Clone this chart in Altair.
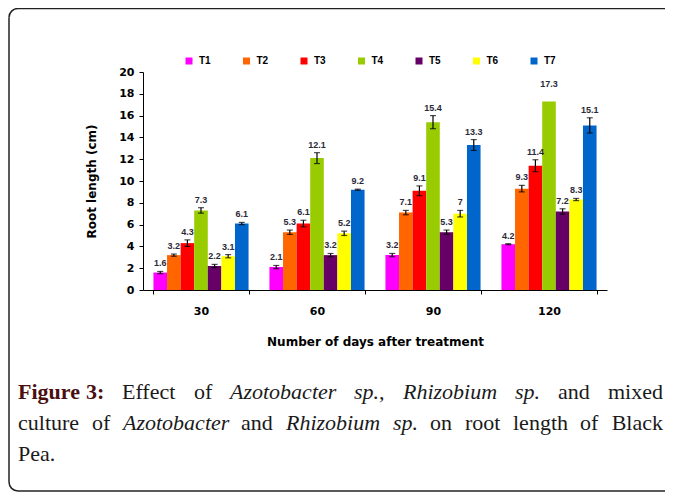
import math
import altair as alt
import pandas as pd

# ---------------- data ----------------
days = ["30", "60", "90", "120"]
treatments = ["T1", "T2", "T3", "T4", "T5", "T6", "T7"]
colors = ["#FF00FF", "#FF6600", "#FF0000", "#99CC00", "#660066", "#FFFF00", "#0066CC"]

root_30 = [1.6, 3.2, 4.3, 7.3, 2.2, 3.1, 6.1]
root_60 = [2.1, 5.3, 6.1, 12.1, 3.2, 5.2, 9.2]
root_90 = [3.2, 7.1, 9.1, 15.4, 5.3, 7.0, 13.3]
root_120 = [4.2, 9.3, 11.4, 17.3, 7.2, 8.3, 15.1]

err_30 = [0.1, 0.1, 0.3, 0.25, 0.15, 0.15, 0.1]
err_60 = [0.15, 0.2, 0.3, 0.5, 0.15, 0.2, 0.05]
err_90 = [0.15, 0.2, 0.45, 0.6, 0.2, 0.3, 0.5]
err_120 = [0.05, 0.3, 0.55, 0.85, 0.25, 0.1, 0.7]
# error bar of T4 at 120 days is not visible in the original
shown_120 = [True, True, True, False, True, True, True]

values = [root_30, root_60, root_90, root_120]
errors = [err_30, err_60, err_90, err_120]
shown = [[True] * 7, [True] * 7, [True] * 7, shown_120]

rows = []
for d, vals, errs, shw in zip(days, values, errors, shown):
    for t, v, e, s in zip(treatments, vals, errs, shw):
        rows.append({"day": d, "treat": t, "value": v, "lo": v - e, "hi": v + e,
                     "label": f"{v:g}", "shown": s})
df = pd.DataFrame(rows)

# ---------------- layout ----------------
W, H = 464, 218
PAD = {"left": 135, "top": 64, "right": 657 - 135 - W, "bottom": 484 - 64 - H}
OX, OY = 143, 72  # page position of plot origin

SANS = "Liberation Sans"
WIDE = "DejaVu Sans"
SERIF = "Liberation Serif"

x_enc = alt.X("day:N", sort=days,
              scale=alt.Scale(paddingInner=0.18, paddingOuter=0.09),
              axis=alt.Axis(title="Number of days after treatment", labelAngle=0,
                            tickBand="extent", tickSize=4, labelFont=WIDE,
                            labelFontSize=11, labelFontWeight="bold",
                            titleFont=WIDE, titleFontSize=12,
                            titleFontWeight="bold", labelPadding=11, titlePadding=20))
xo_enc = alt.XOffset("treat:N", sort=treatments,
                     scale=alt.Scale(paddingInner=0, paddingOuter=0))
y_axis = alt.Axis(title="Root length (cm)", values=list(range(0, 21, 2)), tickSize=4,
                  grid=False, labelFont=WIDE, labelFontSize=11, labelFontWeight="bold",
                  titleFont=WIDE, titleFontSize=12, titleFontWeight="bold",
                  labelPadding=5, titlePadding=20)
y_scale = alt.Scale(domain=[0, 20], nice=False)

base = alt.Chart(df)

bars = base.mark_bar().encode(
    x=x_enc, xOffset=xo_enc,
    y=alt.Y("value:Q", scale=y_scale, axis=y_axis),
    color=alt.Color("treat:N", sort=treatments,
                    scale=alt.Scale(domain=treatments, range=colors),
                    legend=alt.Legend(title=None, orient="none", legendX=41, legendY=-16,
                                      direction="horizontal", columns=7,
                                      symbolType="square", symbolSize=49,
                                      symbolStrokeWidth=0, labelFont=SANS,
                                      labelFontSize=10, labelFontWeight="bold",
                                      labelOffset=5, columnPadding=30.5,
                                      gridAlign="all", padding=0)),
)

err_base = base.transform_filter("datum.shown")
rules = err_base.mark_rule(color="black", strokeWidth=1.2).encode(
    x=x_enc, xOffset=xo_enc,
    y=alt.Y("lo:Q", scale=y_scale, axis=y_axis), y2="hi:Q")
cap_hi = err_base.mark_tick(color="black", size=6, thickness=1.2).encode(
    x=x_enc, xOffset=xo_enc, y=alt.Y("hi:Q", scale=y_scale, axis=y_axis))
cap_lo = err_base.mark_tick(color="black", size=6, thickness=1.2).encode(
    x=x_enc, xOffset=xo_enc, y=alt.Y("lo:Q", scale=y_scale, axis=y_axis))
labels = base.mark_text(font=SANS, fontSize=9, fontWeight="bold", color="#2a2a3a",
                        baseline="bottom", dy=-3).encode(
    x=x_enc, xOffset=xo_enc, y=alt.Y("hi:Q", scale=y_scale, axis=y_axis),
    text="label:N")

one = pd.DataFrame({"k": [0]})

# ---- rounded frame (left side rounded, right side runs off the page) ----
FL, FT, FB, R = 9, 8.5, 491, 9
FCOL, FW = "#222222", 1.5
frame_layers = [
    alt.Chart(one).mark_rule(color=FCOL, strokeWidth=FW).encode(
        x=alt.value(FL - OX), y=alt.value(FT + R - OY), y2=alt.value(FB - R - OY)),
    alt.Chart(one).mark_rule(color=FCOL, strokeWidth=FW).encode(
        x=alt.value(FL + R - OX), x2=alt.value(2000), y=alt.value(FT - OY)),
    alt.Chart(one).mark_rule(color=FCOL, strokeWidth=FW).encode(
        x=alt.value(FL + R - OX), x2=alt.value(2000), y=alt.value(FB - OY)),
    alt.Chart(one).mark_arc(color=FCOL, innerRadius=R - FW / 2, radius=R + FW / 2,
                            theta=1.5 * math.pi, theta2=2 * math.pi).encode(
        x=alt.value(FL + R - OX), y=alt.value(FT + R - OY)),
    alt.Chart(one).mark_arc(color=FCOL, innerRadius=R - FW / 2, radius=R + FW / 2,
                            theta=math.pi, theta2=1.5 * math.pi).encode(
        x=alt.value(FL + R - OX), y=alt.value(FB - R - OY)),
]

# caption words: (text, page_x, page_baseline, style, align)
caption = [
    ("Figure", 18, 399, "bold", "left"),
    ("3:", 86, 399, "bold", "left"),
    ("Effect", 122, 399, "normal", "left"),
    ("of", 194, 399, "normal", "left"),
    ("Azotobacter", 230, 399, "italic", "left"),
    ("sp.,", 354, 399, "italic", "left"),
    ("Rhizobium", 403, 399, "italic", "left"),
    ("sp.", 515, 399, "italic", "left"),
    ("and", 558, 399, "normal", "left"),
    ("mixed", 663, 399, "normal", "right"),
    ("culture", 18, 430, "normal", "left"),
    ("of", 92, 430, "normal", "left"),
    ("Azotobacter", 123, 430, "italic", "left"),
    ("and", 241, 430, "normal", "left"),
    ("Rhizobium", 286, 430, "italic", "left"),
    ("sp.", 393, 430, "italic", "left"),
    ("on", 430, 430, "normal", "left"),
    ("root", 465, 430, "normal", "left"),
    ("length", 513, 430, "normal", "left"),
    ("of", 580, 430, "normal", "left"),
    ("Black", 663, 430, "normal", "right"),
    ("Pea.", 18, 461, "normal", "left"),
]

cap_layers = []
for word, px, py, style, al in caption:
    kw = dict(text=word, font=SERIF, fontSize=22, align=al, baseline="alphabetic",
              color="#1a1a1a")
    if style == "bold":
        kw["fontWeight"] = "bold"
        kw["color"] = "#4a1010"
    elif style == "italic":
        kw["fontStyle"] = "italic"
    cap_layers.append(alt.Chart(one).mark_text(**kw).encode(
        x=alt.value(px - OX), y=alt.value(py - OY)))

chart = alt.layer(*frame_layers, bars, rules, cap_hi, cap_lo, labels,
                  *cap_layers).properties(
    width=W, height=H, padding=PAD, autosize=alt.AutoSizeParams(type="none"),
    background="white",
).configure_axis(
    domainColor="black", tickColor="black",
    labelColor="black", titleColor="black", domainWidth=1, tickWidth=1,
).configure_view(stroke=None)

chart.save("out.html", embed_options={"renderer": "svg", "actions": False})
